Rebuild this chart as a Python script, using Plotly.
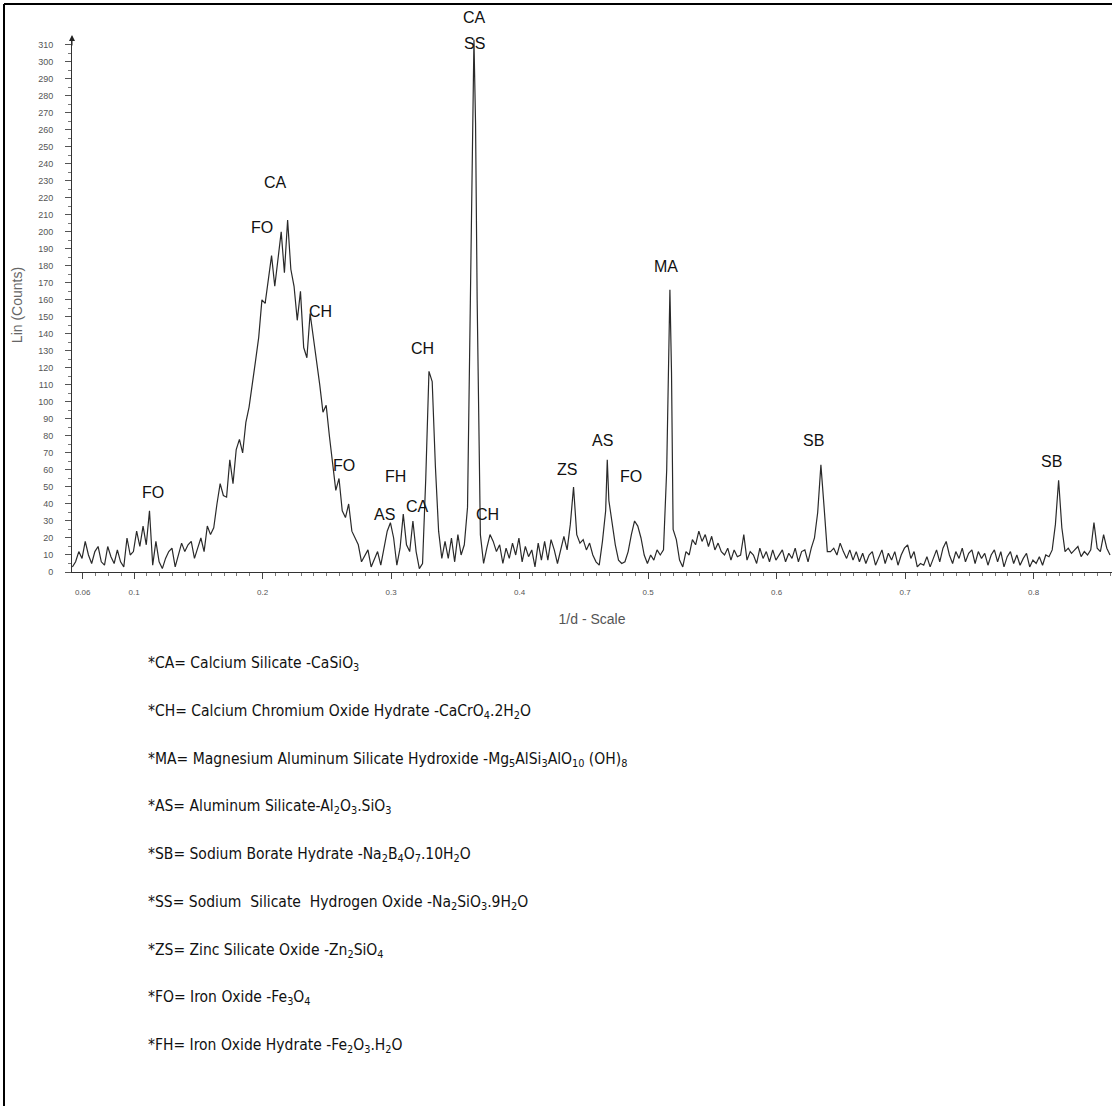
import plotly.graph_objects as go

# ---------------- data: scan positions (1/d) and counts, by band ----------------
X_A = [0.052, 0.0545, 0.057, 0.0595, 0.062, 0.0645, 0.067, 0.0695,
       0.072, 0.0745, 0.077, 0.0795, 0.082, 0.0845, 0.087, 0.0895,
       0.092, 0.0945, 0.097, 0.0995, 0.102, 0.1045, 0.107, 0.1095,
       0.112, 0.1145, 0.117, 0.1195, 0.122, 0.1245, 0.127, 0.1295,
       0.132, 0.1345, 0.137, 0.1395, 0.142, 0.1445, 0.147, 0.1495]
Y_A = [3, 6, 12, 8, 18, 10, 5, 12,
       15, 6, 4, 15, 9, 5, 13, 6,
       3, 20, 10, 12, 24, 15, 27, 16,
       36, 4, 18, 6, 2, 8, 12, 14,
       3, 10, 17, 12, 16, 18, 8, 14]

X_B = [0.152, 0.1545, 0.157, 0.1595, 0.162, 0.1645, 0.167, 0.1695,
       0.172, 0.1745, 0.177, 0.1795, 0.182, 0.1845, 0.187, 0.1895,
       0.192, 0.1945, 0.197, 0.1995, 0.202, 0.2045, 0.207, 0.2095,
       0.212, 0.2145, 0.217, 0.2195, 0.222, 0.2245, 0.227, 0.2295,
       0.232, 0.2345, 0.237, 0.2395, 0.242, 0.2445, 0.247, 0.2495]
Y_B = [20, 12, 27, 22, 26, 40, 52, 45,
       44, 66, 52, 72, 78, 70, 88, 97,
       112, 124, 138, 160, 158, 172, 186, 168,
       185, 200, 176, 207, 178, 168, 148, 165,
       132, 126, 152, 138, 126, 110, 94, 98]

X_C = [0.252, 0.2545, 0.257, 0.2595, 0.262, 0.2645, 0.267, 0.2695,
       0.272, 0.2745, 0.277, 0.2795, 0.282, 0.2845, 0.287, 0.2895,
       0.292, 0.2945, 0.297, 0.2995, 0.302, 0.3045, 0.307, 0.3095,
       0.312, 0.3145, 0.317, 0.3195, 0.322, 0.3245, 0.327, 0.3295,
       0.332, 0.3345, 0.337, 0.3395, 0.342, 0.3445, 0.347, 0.3495]
Y_C = [80, 64, 48, 55, 36, 32, 40, 24,
       20, 16, 6, 10, 13, 3, 8, 12,
       4, 14, 24, 29, 20, 4, 14, 34,
       16, 12, 30, 12, 2, 5, 55, 118,
       112, 62, 24, 8, 18, 8, 20, 6]

X_D = [0.352, 0.3545, 0.357, 0.3595, 0.362, 0.3645, 0.36575, 0.367, 0.3695,
       0.372, 0.3745, 0.377, 0.3795, 0.382, 0.3845, 0.387, 0.3895,
       0.392, 0.3945, 0.397, 0.3995, 0.402, 0.4045, 0.407, 0.4095,
       0.412, 0.4145, 0.417, 0.4195, 0.422, 0.4245, 0.427, 0.4295,
       0.432, 0.4345, 0.437, 0.4395, 0.442, 0.4445, 0.447, 0.4495]
Y_D = [22, 10, 16, 38, 172, 313, 264, 160, 22,
       5, 14, 22, 18, 12, 16, 5, 14,
       8, 17, 10, 20, 6, 15, 9, 13,
       3, 17, 7, 18, 7, 19, 13, 5,
       14, 21, 13, 28, 50, 22, 17, 19]

X_E = [0.452, 0.4545, 0.457, 0.4595, 0.462, 0.4645, 0.467, 0.46825, 0.4695,
       0.472, 0.4745, 0.477, 0.4795, 0.482, 0.4845, 0.487, 0.4895,
       0.492, 0.4945, 0.497, 0.4995, 0.502, 0.5045, 0.507, 0.5095,
       0.512, 0.5145, 0.517, 0.51825, 0.5195, 0.522, 0.5245, 0.527, 0.5295,
       0.532, 0.5345, 0.537, 0.5395, 0.542, 0.5445, 0.547, 0.5495]
Y_E = [13, 17, 10, 6, 4, 18, 36, 66, 42,
       29, 16, 7, 5, 6, 12, 22, 30,
       27, 20, 10, 5, 10, 7, 13, 10,
       13, 60, 166, 117, 25, 19, 7, 3, 12,
       10, 19, 16, 24, 18, 22, 15, 21]

X_F = [0.552, 0.5545, 0.557, 0.5595, 0.562, 0.5645, 0.567, 0.5695,
       0.572, 0.5745, 0.577, 0.5795, 0.582, 0.5845, 0.587, 0.5895,
       0.592, 0.5945, 0.597, 0.5995, 0.602, 0.6045, 0.607, 0.6095,
       0.612, 0.6145, 0.617, 0.6195, 0.622, 0.6245, 0.627, 0.6295,
       0.632, 0.6345, 0.637, 0.6395, 0.642, 0.6445, 0.647, 0.6495]
Y_F = [13, 17, 12, 10, 14, 7, 13, 9,
       10, 22, 7, 12, 10, 5, 14, 8,
       12, 6, 13, 7, 10, 13, 6, 11,
       8, 14, 6, 12, 13, 6, 14, 20,
       35, 63, 38, 12, 12, 14, 10, 17]

X_G = [0.652, 0.6545, 0.657, 0.6595, 0.662, 0.6645, 0.667, 0.6695,
       0.672, 0.6745, 0.677, 0.6795, 0.682, 0.6845, 0.687, 0.6895,
       0.692, 0.6945, 0.697, 0.6995, 0.702, 0.7045, 0.707, 0.7095,
       0.712, 0.7145, 0.717, 0.7195, 0.722, 0.7245, 0.727, 0.7295,
       0.732, 0.7345, 0.737, 0.7395, 0.742, 0.7445, 0.747, 0.7495]
Y_G = [12, 8, 13, 7, 12, 6, 11, 5,
       10, 12, 4, 9, 13, 5, 11, 7,
       12, 4, 10, 14, 16, 8, 12, 3,
       5, 4, 9, 3, 8, 13, 6, 14,
       18, 10, 5, 12, 8, 14, 6, 11]

X_H = [0.752, 0.7545, 0.757, 0.7595, 0.762, 0.7645, 0.767, 0.7695,
       0.772, 0.7745, 0.777, 0.7795, 0.782, 0.7845, 0.787, 0.7895,
       0.792, 0.7945, 0.797, 0.7995, 0.802, 0.8045, 0.807, 0.8095,
       0.812, 0.8145, 0.817, 0.8195, 0.822, 0.8245, 0.827, 0.8295,
       0.832, 0.8345, 0.837, 0.8395, 0.842, 0.8445, 0.847, 0.8495,
       0.852, 0.8545, 0.857, 0.8595]
Y_H = [13, 5, 12, 8, 11, 4, 10, 13,
       6, 12, 3, 9, 12, 5, 10, 4,
       8, 11, 3, 7, 5, 9, 4, 10,
       9, 13, 28, 54, 26, 12, 14, 11,
       13, 15, 9, 12, 10, 13, 29, 14,
       12, 22, 14, 10]

X_TICKS = [0.06, 0.1, 0.2, 0.3, 0.4, 0.5, 0.6, 0.7, 0.8]
X_TICK_TEXT = ["0.06", "0.1", "0.2", "0.3", "0.4", "0.5", "0.6", "0.7", "0.8"]

# peak labels (text, 1/d, counts)
PEAK_TEXT = ["SS", "CA", "FO", "CH", "CH", "FO", "FH", "AS", "CA",
             "CH", "ZS", "AS", "FO", "MA", "SB", "SB", "FO"]
PEAK_X = [0.3653, 0.2104, 0.1995, 0.2447, 0.3248, 0.2634, 0.3038, 0.2952, 0.3209,
          0.3754, 0.4369, 0.4649, 0.4867, 0.5139, 0.6291, 0.8143, 0.1147]
PEAK_Y = [310.6, 228.8, 202.4, 152.9, 131.2, 62.4, 55.9, 34.1, 38.8,
          34.1, 60.0, 77.1, 55.9, 179.4, 77.1, 64.7, 46.5]
TOP_LABEL = "CA"          # label above the strongest reflection (outside the count range)
TOP_LABEL_X = 0.3653

LEGEND_LINES = [
    "*CA= Calcium Silicate -CaSiO<sub>3</sub>",
    "*CH= Calcium Chromium Oxide Hydrate -CaCrO<sub>4</sub>.2H<sub>2</sub>O",
    "*MA= Magnesium Aluminum Silicate Hydroxide -Mg<sub>5</sub>AlSi<sub>3</sub>AlO<sub>10</sub> (OH)<sub>8</sub>",
    "*AS= Aluminum Silicate-Al<sub>2</sub>O<sub>3</sub>.SiO<sub>3</sub>",
    "*SB= Sodium Borate Hydrate -Na<sub>2</sub>B<sub>4</sub>O<sub>7</sub>.10H<sub>2</sub>O",
    "*SS= Sodium\u00a0 Silicate\u00a0 Hydrogen Oxide -Na<sub>2</sub>SiO<sub>3</sub>.9H<sub>2</sub>O",
    "*ZS= Zinc Silicate Oxide -Zn<sub>2</sub>SiO<sub>4</sub>",
    "*FO= Iron Oxide -Fe<sub>3</sub>O<sub>4</sub>",
    "*FH= Iron Oxide Hydrate -Fe<sub>2</sub>O<sub>3</sub>.H<sub>2</sub>O",
]

# ---------------- figure ----------------
W, H = 1112, 1106
ML, MR, MT, MB = 72, 0, 38, 534
PW, PH = W - ML - MR, H - MT - MB

x = X_A + X_B + X_C + X_D + X_E + X_F + X_G + X_H
y = Y_A + Y_B + Y_C + Y_D + Y_E + Y_F + Y_G + Y_H

fig = go.Figure()
fig.add_trace(go.Scatter(x=x, y=y, mode="lines",
                         line=dict(color="#2a2a2a", width=1.2),
                         hoverinfo="skip", showlegend=False))

def px_to_paper_x(px):
    return (px - ML) / PW

def px_to_paper_y(py):
    return (H - MB - py) / PH

LABEL_FONT = dict(family="Arial, Liberation Sans", size=16, color="#111")

annotations = []
for t, xx, yy in zip(PEAK_TEXT, PEAK_X, PEAK_Y):
    annotations.append(dict(x=xx, y=yy, xref="x", yref="y", text=t, showarrow=False,
                            font=LABEL_FONT, xanchor="center", yanchor="middle"))
annotations.append(dict(x=TOP_LABEL_X, y=px_to_paper_y(18), xref="x", yref="paper",
                        text=TOP_LABEL, showarrow=False, font=LABEL_FONT,
                        xanchor="center", yanchor="middle"))

for i, line in enumerate(LEGEND_LINES):
    annotations.append(dict(x=px_to_paper_x(146), y=px_to_paper_y(664 + 47.75 * i),
                            xref="paper", yref="paper", text=line, showarrow=False,
                            font=dict(family="DejaVu Sans Condensed, Liberation Sans",
                                      size=15.5, color="#111"),
                            xanchor="left", yanchor="middle"))

# arrow head on top of y axis
annotations.append(dict(x=0, y=px_to_paper_y(35), xref="paper", yref="paper", text="",
                        showarrow=True, ax=0, ay=12, arrowhead=2, arrowsize=1.2,
                        arrowwidth=1, arrowcolor="#222"))

x0, x1 = 0.0517, 0.0517 + PW / 1285.0

fig.update_layout(
    width=W, height=H,
    margin=dict(l=ML, r=MR, t=MT, b=MB, pad=0),
    paper_bgcolor="white", plot_bgcolor="white",
    annotations=annotations,
    shapes=[
        dict(type="line", xref="paper", yref="paper",
             x0=px_to_paper_x(4), x1=px_to_paper_x(1112), y0=px_to_paper_y(4), y1=px_to_paper_y(4),
             line=dict(color="black", width=2)),
        dict(type="line", xref="paper", yref="paper",
             x0=px_to_paper_x(4), x1=px_to_paper_x(4), y0=px_to_paper_y(4), y1=px_to_paper_y(1106),
             line=dict(color="black", width=2)),
    ],
    xaxis=dict(range=[x0, x1], showgrid=False, zeroline=False,
               showline=True, linecolor="#333", linewidth=1,
               tickmode="array", tickvals=X_TICKS, ticktext=X_TICK_TEXT,
               ticks="outside", ticklen=6, tickcolor="#444", tickwidth=1,
               ticklabelstandoff=6,
               tickfont=dict(family="Arial, Liberation Sans", size=8, color="#555"),
               minor=dict(ticks="outside", ticklen=3, tickcolor="#777", tickmode="linear",
                          tick0=0, dtick=0.01, showgrid=False),
               title=dict(text="1/d - Scale", standoff=18,
                          font=dict(family="Arial, Liberation Sans", size=14, color="#555"))),
    yaxis=dict(range=[0, 314], showgrid=False, zeroline=False,
               showline=True, linecolor="#333", linewidth=1,
               tickmode="linear", tick0=0, dtick=10,
               ticks="outside", ticklen=6, tickcolor="#555", tickwidth=1,
               ticklabelstandoff=10,
               tickfont=dict(family="Arial, Liberation Sans", size=9, color="#555"),
               minor=dict(ticks="outside", ticklen=3, tickcolor="#777", tickmode="linear",
                          tick0=0, dtick=5, showgrid=False),
               title=dict(text="Lin (Counts)", standoff=12,
                          font=dict(family="Arial, Liberation Sans", size=14, color="#666"))),
)

fig.write_html("out.html", config={"displayModeBar": False},
               post_script="document.body.style.margin='0px';")
